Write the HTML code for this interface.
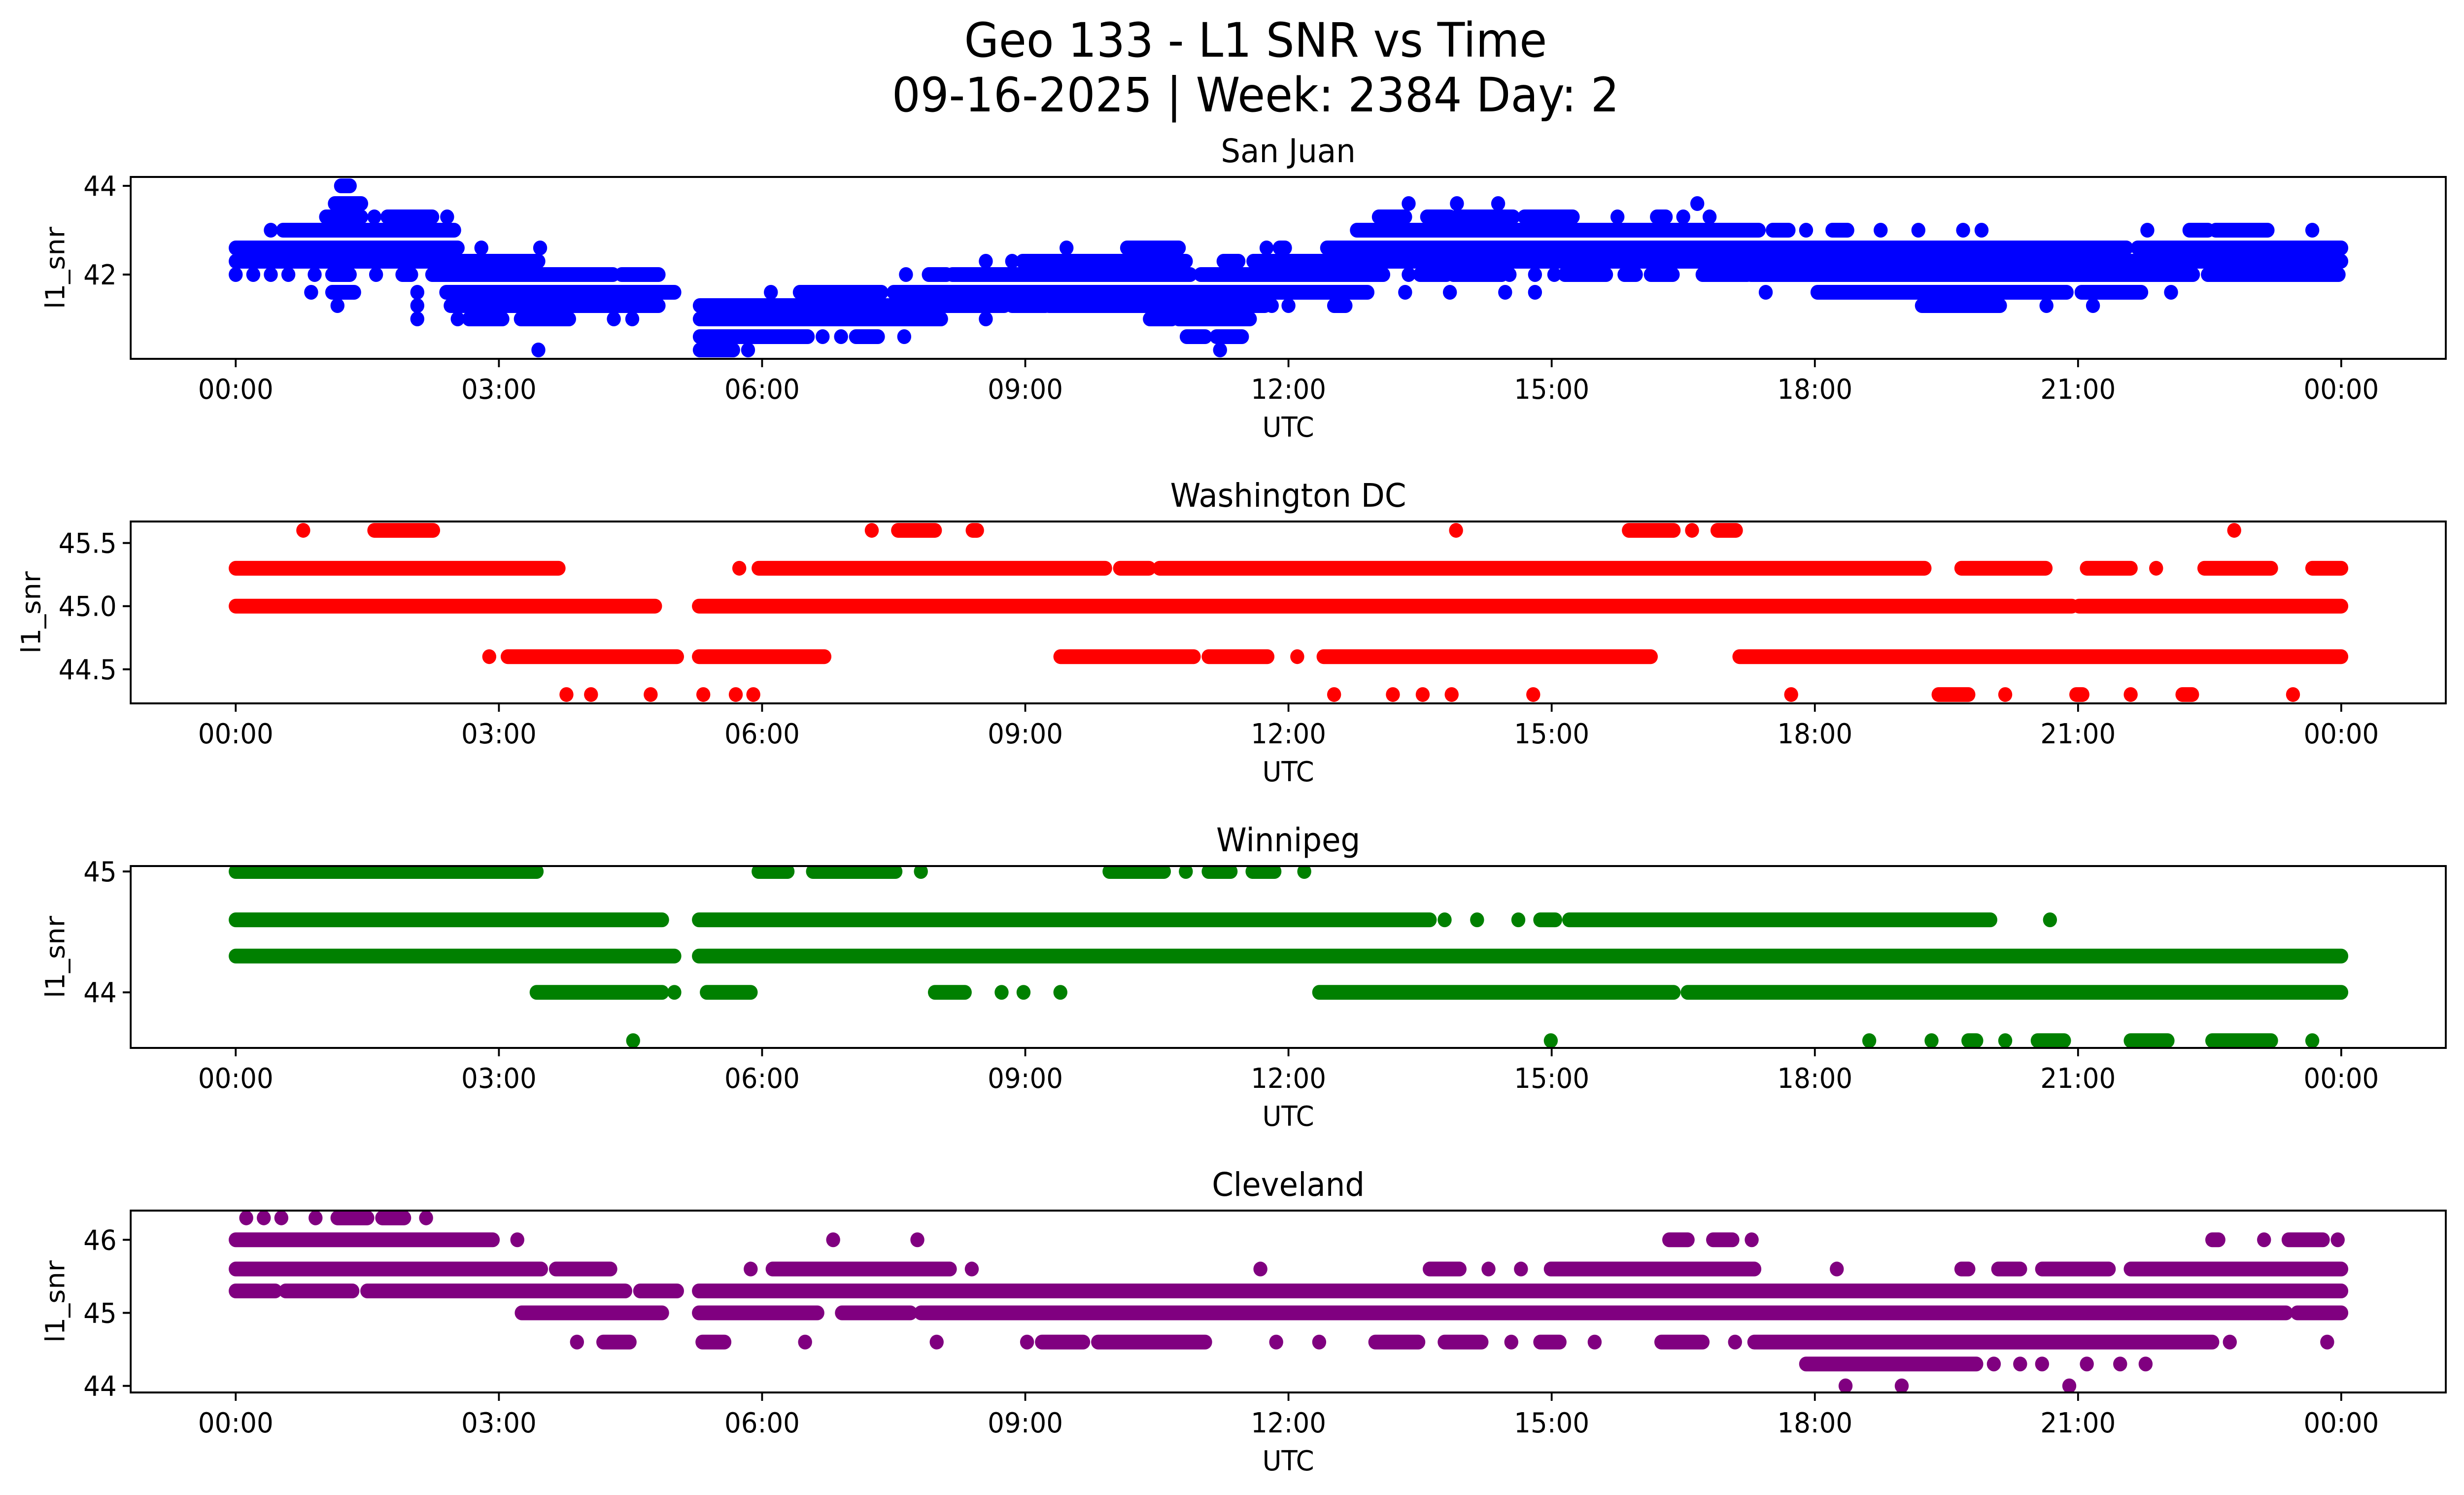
<!DOCTYPE html>
<html><head><meta charset="utf-8"><style>
html,body{margin:0;padding:0;background:#fff;width:100%;height:100%;overflow:hidden}
svg{display:block;position:absolute;left:0;top:0;width:100vw;height:100vh}
svg text{font-family:"DejaVu Sans","Liberation Sans",sans-serif;fill:#000}
</style></head><body>
<svg id="fig" xmlns="http://www.w3.org/2000/svg" viewBox="0 0 5279 3033" preserveAspectRatio="none">
<rect width="5279" height="3033" fill="#fff"/>
<text x="2690" y="115" font-size="96" text-anchor="middle">Geo 133 - L1 SNR vs Time</text>
<text x="2690" y="226" font-size="96" text-anchor="middle">09-16-2025 | Week: 2384 Day: 2</text>
</svg>
<script>
const xTickHours = [0,3,6,9,12,15,18,21,24];
const xTickLabels = ["00:00","03:00","06:00","09:00","12:00","15:00","18:00","21:00","00:00"];

const sjTitle = "San Juan";
const sjYLim = [40.1, 44.2];
const sjYTicks = [42, 44];
const sjLevels = [44.0,43.6,43.3,43.0,42.6,42.3,42.0,41.6,41.3,41.0,40.6,40.3];
const sjRuns = [
 [[1.2,1.3]],
 [[1.13,1.43],[13.37,13.37],[13.92,13.92],[14.39,14.39],[16.66,16.66]],
 [[1.03,1.43],[1.58,1.58],[1.73,2.24],[2.41,2.41],[13.03,13.33],[13.58,13.84],[13.92,14.56],[14.69,15.24],[15.75,15.75],[16.2,16.3],[16.5,16.5],[16.8,16.8]],
 [[0.4,0.4],[0.54,2.49],[12.78,17.36],[17.52,17.7],[17.9,17.9],[18.2,18.37],[18.75,18.75],[19.18,19.18],[19.69,19.69],[19.9,19.9],[21.79,21.79],[22.27,22.48],[22.57,23.16],[23.67,23.67]],
 [[0,2.53],[2.8,2.8],[3.47,3.47],[9.47,9.47],[10.16,10.75],[11.75,11.75],[11.9,11.96],[12.44,21.55],[21.68,24]],
 [[0,3.45],[8.55,8.55],[8.85,8.85],[8.97,10.83],[11.26,11.43],[11.6,24]],
 [[0,0],[0.2,0.2],[0.4,0.4],[0.6,0.6],[0.9,0.9],[1.1,1.3],[1.6,1.6],[1.9,2.0],[2.24,4.3],[4.4,4.82],[7.64,7.64],[7.9,8.1],[8.17,10.88],[11.0,13.08],[13.37,13.37],[13.5,13.8],[13.88,14.43],[14.52,14.52],[14.81,14.81],[15.03,15.03],[15.15,15.62],[15.83,15.96],[16.13,16.38],[16.72,17.23],[17.27,22.31],[22.48,23.97]],
 [[0.86,0.86],[1.1,1.35],[2.07,2.07],[2.4,5.0],[6.1,6.1],[6.43,7.36],[7.5,12.9],[13.33,13.33],[13.84,13.84],[14.47,14.47],[14.81,14.81],[17.44,17.44],[18.03,20.87],[21.04,21.72],[22.06,22.06]],
 [[1.16,1.16],[2.07,2.07],[2.45,4.82],[5.29,8.76],[8.85,9.23],[9.27,11.73],[11.81,11.81],[12.0,12.0],[12.52,12.65],[19.22,20.11],[20.64,20.64],[21.17,21.17]],
 [[2.07,2.07],[2.53,2.53],[2.66,3.04],[3.25,3.8],[4.31,4.31],[4.52,4.52],[5.29,8.04],[8.55,8.55],[10.42,10.67],[10.75,11.56]],
 [[5.29,6.52],[6.69,6.69],[6.9,6.9],[7.07,7.32],[7.62,7.62],[10.84,11.05],[11.18,11.47]],
 [[3.45,3.45],[5.29,5.67],[5.84,5.84],[11.22,11.22]]
];

const dcTitle = "Washington DC";
const dcYLim = [44.23, 45.67];
const dcYTicks = [44.5, 45.0, 45.5];
const dcYTickLabels = ["44.5","45.0","45.5"];
const dcLevels = [45.6,45.3,45.0,44.6,44.3];
const dcRuns = [
 [[0.77,0.77],[1.58,2.25],[7.25,7.25],[7.55,7.97],[8.4,8.45],[13.91,13.91],[15.88,16.39],[16.6,16.6],[16.89,17.1],[22.78,22.78]],
 [[0,3.68],[5.74,5.74],[5.96,9.91],[10.08,10.41],[10.53,19.25],[19.67,20.63],[21.1,21.6],[21.89,21.89],[22.44,23.2],[23.67,24]],
 [[0,4.78],[5.28,20.93],[21.01,24]],
 [[2.89,2.89],[3.1,5.03],[5.28,6.71],[9.4,10.92],[11.09,11.76],[12.1,12.1],[12.4,16.13],[17.14,24]],
 [[3.77,3.77],[4.05,4.05],[4.73,4.73],[5.33,5.33],[5.7,5.7],[5.9,5.9],[12.52,12.52],[13.19,13.19],[13.53,13.53],[13.86,13.86],[14.79,14.79],[17.73,17.73],[19.41,19.75],[20.17,20.17],[20.98,21.05],[21.6,21.6],[22.19,22.3],[23.45,23.45]]
];

const wpTitle = "Winnipeg";
const wpYLim = [43.54, 45.045];
const wpYTicks = [44, 45];
const wpLevels = [45.0,44.6,44.3,44.0,43.6];
const wpRuns = [
 [[0,3.43],[5.96,6.29],[6.58,7.52],[7.81,7.81],[9.96,10.58],[10.83,10.83],[11.09,11.34],[11.59,11.84],[12.18,12.18]],
 [[0,4.86],[5.28,13.61],[13.78,13.78],[14.15,14.15],[14.62,14.62],[14.87,15.04],[15.2,20.0],[20.68,20.68]],
 [[0,5.0],[5.28,24]],
 [[3.43,4.86],[5.0,5.0],[5.37,5.87],[7.97,8.31],[8.73,8.73],[8.98,8.98],[9.4,9.4],[12.35,16.39],[16.55,24]],
 [[4.53,4.53],[14.99,14.99],[18.62,18.62],[19.33,19.33],[19.75,19.84],[20.17,20.17],[20.54,20.84],[21.6,22.02],[22.53,23.2],[23.67,23.67]]
];

const clTitle = "Cleveland";
const clYLim = [43.91, 46.40];
const clYTicks = [44, 45, 46];
const clLevels = [46.3,46.0,45.6,45.3,45.0,44.6,44.3,44.0];
const clRuns = [
 [[0.12,0.12],[0.32,0.32],[0.52,0.52],[0.91,0.91],[1.16,1.5],[1.67,1.92],[2.17,2.17]],
 [[0,2.93],[3.21,3.21],[6.81,6.81],[7.77,7.77],[16.34,16.55],[16.84,17.06],[17.28,17.28],[22.53,22.6],[23.12,23.12],[23.4,23.79],[23.96,23.96]],
 [[0,3.48],[3.65,4.27],[5.87,5.87],[6.12,8.14],[8.39,8.39],[11.68,11.68],[13.61,13.95],[14.28,14.28],[14.65,14.65],[14.99,17.31],[18.25,18.25],[19.67,19.75],[20.09,20.34],[20.59,21.35],[21.6,24]],
 [[0,0.45],[0.57,1.33],[1.5,4.44],[4.61,5.03],[5.28,24]],
 [[3.26,4.86],[5.28,6.63],[6.91,7.69],[7.81,23.37],[23.5,24]],
 [[3.89,3.89],[4.19,4.49],[5.32,5.57],[6.49,6.49],[7.99,7.99],[9.02,9.02],[9.19,9.66],[9.83,11.05],[11.86,11.86],[12.35,12.35],[12.99,13.48],[13.78,14.2],[14.54,14.54],[14.87,15.09],[15.49,15.49],[16.25,16.72],[17.09,17.09],[17.31,22.53],[22.73,22.73],[23.84,23.84]],
 [[17.9,19.84],[20.04,20.04],[20.34,20.34],[20.59,20.59],[21.1,21.1],[21.48,21.48],[21.77,21.77]],
 [[18.35,18.35],[18.99,18.99],[20.9,20.9]]
];

const NS = "http://www.w3.org/2000/svg";
const svg = document.getElementById('fig');
const AX_L = 280, AX_R = 5240, X0 = 505, X24 = 5016, AX_H = 369;
function xScale(h){ return X0 + (X24 - X0) * h / 24; }
function mk(tag, attrs, parent){
  const e = document.createElementNS(NS, tag);
  for (const k in attrs) e.setAttribute(k, attrs[k]);
  (parent || svg).appendChild(e);
  return e;
}

function drawPanel(key, top, title, ylim, yticks, ytickLabels, levels, runs, color, ylabelX){
  const bot = top + AX_H;
  const yScale = v => bot - (v - ylim[0]) / (ylim[1] - ylim[0]) * AX_H;
  const g = mk('g', {});
  
  
  const clipId = 'clip-' + key;
  const cp = mk('clipPath', {id: clipId}, g);
  mk('rect', {x: AX_L, y: top, width: AX_R - AX_L, height: AX_H}, cp);
  const pts = mk('g', {'clip-path': 'url(#' + clipId + ')'}, g);
  
  
  levels.forEach((lv, i) => {
    runs[i].forEach(r => {
      const ln = mk('line', {x1: xScale(r[0]), x2: xScale(r[1]), y1: yScale(lv), y2: yScale(lv),
        stroke: color, 'stroke-width': 30, 'stroke-linecap': 'round'}, pts);
      
      
    });
  });
  const frame = mk('rect', {x: AX_L, y: top, width: AX_R - AX_L, height: AX_H, fill: 'none', stroke: '#000', 'stroke-width': 4}, g);
  
  
  xTickHours.forEach((h, i) => {
    const x = xScale(h);
    mk('line', {x1: x, x2: x, y1: bot, y2: bot + 17, stroke: '#000', 'stroke-width': 4}, g);
    const t = mk('text', {x: x, y: bot + 81, 'font-size': 56, 'text-anchor': 'middle'}, g);
    
    
    t.textContent = xTickLabels[i];
  });
  yticks.forEach((v, i) => {
    const y = yScale(v);
    mk('line', {x1: AX_L - 17, x2: AX_L, y1: y, y2: y, stroke: '#000', 'stroke-width': 4}, g);
    const t = mk('text', {x: AX_L - 30, y: y + 20, 'font-size': 56, 'text-anchor': 'end'}, g);
    
    
    t.textContent = ytickLabels ? ytickLabels[i] : String(v);
  });
  const xl = mk('text', {x: (AX_L + AX_R) / 2, y: bot + 158, 'font-size': 56, 'text-anchor': 'middle'}, g);
  
  
  xl.textContent = 'UTC';
  const cy = top + AX_H / 2;
  const yl = mk('text', {x: ylabelX, y: cy, 'font-size': 56, 'text-anchor': 'middle', transform: 'rotate(-90 ' + ylabelX + ' ' + cy + ')'}, g);
  
  
  yl.textContent = 'l1_snr';
  const tt = mk('text', {x: (AX_L + AX_R) / 2, y: top - 30, 'font-size': 66, 'text-anchor': 'middle'}, g);
  
  
  tt.textContent = title;
}

drawPanel('san-juan', 359, sjTitle, sjYLim, sjYTicks, null, sjLevels, sjRuns, '#0000ff', 138);
drawPanel('washington-dc', 1058, dcTitle, dcYLim, dcYTicks, dcYTickLabels, dcLevels, dcRuns, '#ff0000', 86);
drawPanel('winnipeg', 1757, wpTitle, wpYLim, wpYTicks, null, wpLevels, wpRuns, '#008000', 138);
drawPanel('cleveland', 2456, clTitle, clYLim, clYTicks, null, clLevels, clRuns, '#800080', 138);
</script>
</body></html>
